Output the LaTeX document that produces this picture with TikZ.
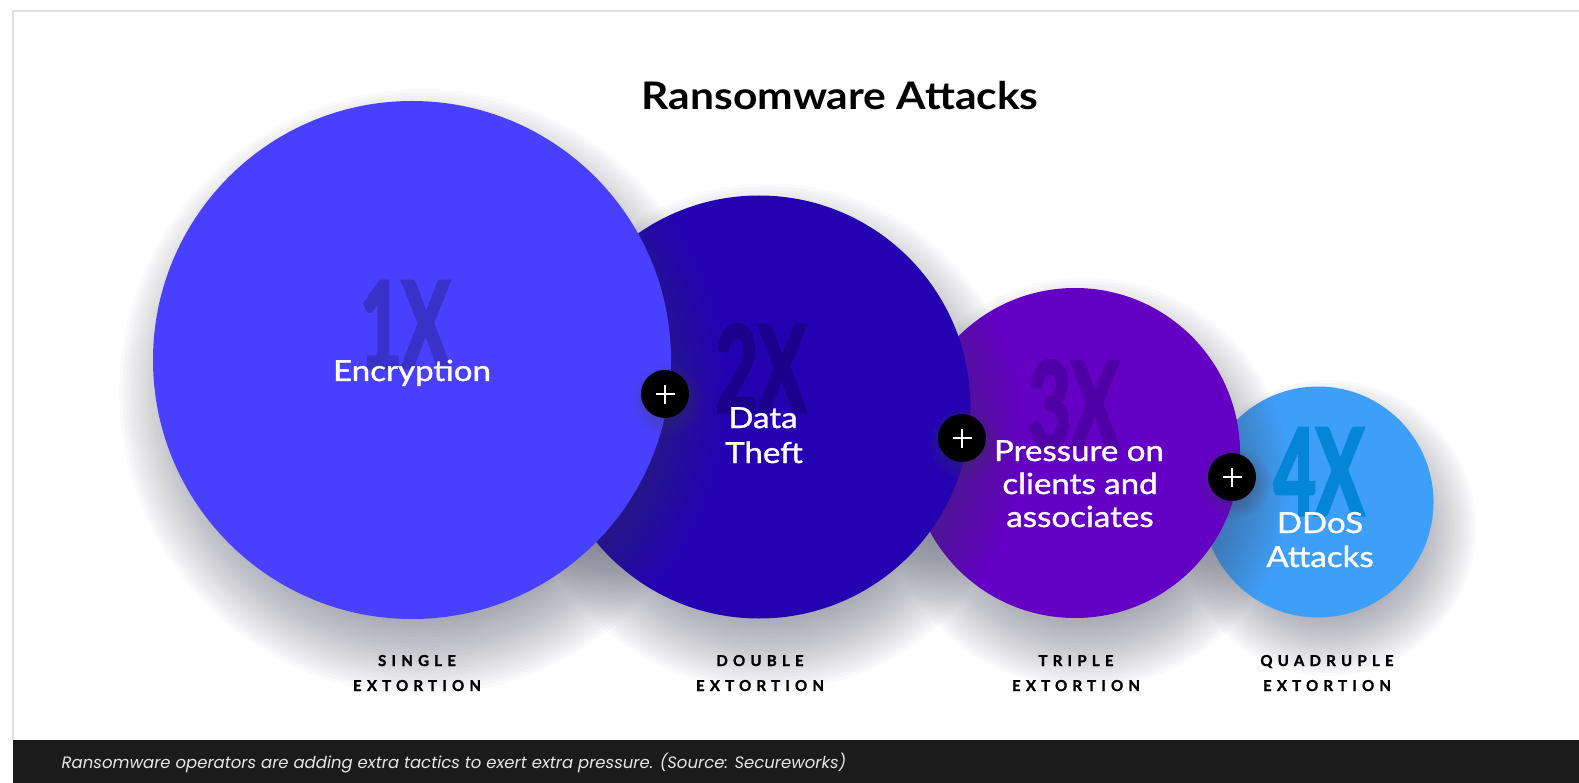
\documentclass[tikz,border=0pt]{standalone}
\usepackage{fontspec}
\setmainfont{Lato}[FakeStretch=1.12]
\newfontfamily\labelfont{Lato}[FakeBold=1.2, FakeStretch=1.14]
\newfontfamily\numfont{Lato}[FakeStretch=0.6, FakeBold=2.5]
\newfontfamily\tagfont{Lato}[LetterSpace=35, FakeBold=1.5]
\newfontfamily\capfont{Poppins}

\definecolor{cOne}{RGB}{73,64,255}
\definecolor{cTwo}{RGB}{36,2,178}
\definecolor{cThree}{RGB}{99,0,196}
\definecolor{cFour}{RGB}{62,159,250}
\definecolor{nOne}{RGB}{56,50,200}
\definecolor{nTwo}{RGB}{27,0,140}
\definecolor{nThree}{RGB}{78,0,166}
\definecolor{nFour}{RGB}{5,133,216}
\definecolor{frameGray}{RGB}{224,224,224}
\definecolor{barBlack}{RGB}{27,27,27}
\definecolor{capGray}{RGB}{230,230,230}
\definecolor{shadowTone}{RGB}{70,72,95}

% soft drop shadow: stacked translucent discs
% #1 centre, #2 innermost radius, #3 radius step, #4 last index, #5 shift, #6 opacity per disc
\newcommand\castshadow[6]{%
  \foreach \k in {0,...,#4}
    \fill[shadowTone, fill opacity=#6] ([shift={#5}]#1) circle ({#2+\k*#3});%
}

\tikzset{
  bubble/.style={circle, inner sep=0pt, outer sep=0pt, minimum size=#1},
  plusdot/.style={circle, fill=black, inner sep=0pt, minimum size=48pt,
    path picture={
      \draw[white, line width=2.4pt]
        ([xshift=-9.5pt]path picture bounding box.center) -- ([xshift=9.5pt]path picture bounding box.center)
        ([yshift=-9.5pt]path picture bounding box.center) -- ([yshift=9.5pt]path picture bounding box.center);
    }},
  bignum/.style={inner sep=0pt, anchor=base, font=\numfont\bfseries\fontsize{120}{120}\selectfont},
  label/.style={inner sep=0pt, anchor=base, text=white, font=\labelfont\fontsize{29}{34}\selectfont},
  tag/.style={inner sep=0pt, anchor=base, text=black, font=\tagfont\bfseries\fontsize{15}{18}\selectfont},
}

\begin{document}
\begin{tikzpicture}[x=1pt, y=-1pt]
  \useasboundingbox (0,0) rectangle (1579,783);
  \fill[white] (0,0) rectangle (1579,783);

  % card outline and caption bar
  \draw[frameGray, line width=1.2pt] (13,740) -- (13,11) -- (1579,11);
  \fill[barBlack] (13,740) rectangle (1579,783);

  % title
  \node[inner sep=0pt, anchor=base, font=\bfseries\fontsize{38}{44}\selectfont] (title) at (840,110) {Ransomware Attacks};

  % circle centres
  \coordinate (o1) at (412,360);
  \coordinate (o2) at (759,407);
  \coordinate (o3) at (1075,453);
  \coordinate (o4) at (1318,502);

  % circles with their drop shadows, back to front
  \castshadow{o4}{88}{3}{20}{(10,26)}{0.025}
  \node[bubble=231pt, fill=cFour]  (c4) at (o4) {};
  \castshadow{o3}{135}{3.2}{22}{(10,30)}{0.025}
  \node[bubble=330pt, fill=cThree] (c3) at (o3) {};
  \castshadow{o2}{181}{3.3}{22}{(10,30)}{0.025}
  \node[bubble=423pt, fill=cTwo]   (c2) at (o2) {};
  \castshadow{o1}{228}{3.4}{22}{(10,32)}{0.025}
  \node[bubble=518pt, fill=cOne]   (c1) at (o1) {};

  % multipliers
  \node[bignum, text=nOne]   (n1) at (405,368) {1X};
  \node[bignum, text=nTwo]   (n2) at (761,412) {2X};
  \node[bignum, text=nThree] (n3) at (1074,448) {3X};
  \node[bignum, text=nFour]  (n4) at (1319,515) {4X};

  % plus markers
  \coordinate (q1) at (665,394);
  \coordinate (q2) at (962,438);
  \coordinate (q3) at (1232,477);
  \castshadow{q1}{18}{1.5}{12}{(3,6)}{0.03}
  \castshadow{q2}{18}{1.5}{12}{(3,6)}{0.03}
  \castshadow{q3}{18}{1.5}{12}{(3,6)}{0.03}
  \node[plusdot] (p1) at (q1) {};
  \node[plusdot] (p2) at (q2) {};
  \node[plusdot] (p3) at (q3) {};

  % circle labels
  \node[label] (enc) at (412,381) {Encryption};
  \node[label] (dt1) at (763,428) {Data};
  \node[label] (dt2) at (764,463) {Theft};
  \node[label] (pr1) at (1079,461) {Pressure on};
  \node[label] (pr2) at (1080,494) {clients and};
  \node[label] (pr3) at (1080,527) {associates};
  \node[label] (dd1) at (1320,533) {DDoS};
  \node[label] (dd2) at (1320,567) {Attacks};

  % extortion tiers
  \node[tag] (s1) at (417,666) {SINGLE};
  \node[tag] (s2) at (417,691) {EXTORTION};
  \node[tag] (d1) at (760,666) {DOUBLE};
  \node[tag] (d2) at (760,691) {EXTORTION};
  \node[tag] (t1) at (1076,666) {TRIPLE};
  \node[tag] (t2) at (1076,691) {EXTORTION};
  \node[tag] (u1) at (1327,666) {QUADRUPLE};
  \node[tag] (u2) at (1327,691) {EXTORTION};

  % caption
  \node[inner sep=0pt, anchor=base west, text=capGray, font=\capfont\itshape\fontsize{16.5}{20}\selectfont] (cap) at (61.5,768)
    {Ransomware operators are adding extra tactics to exert extra pressure. (Source: Secureworks)};
\end{tikzpicture}
\end{document}
